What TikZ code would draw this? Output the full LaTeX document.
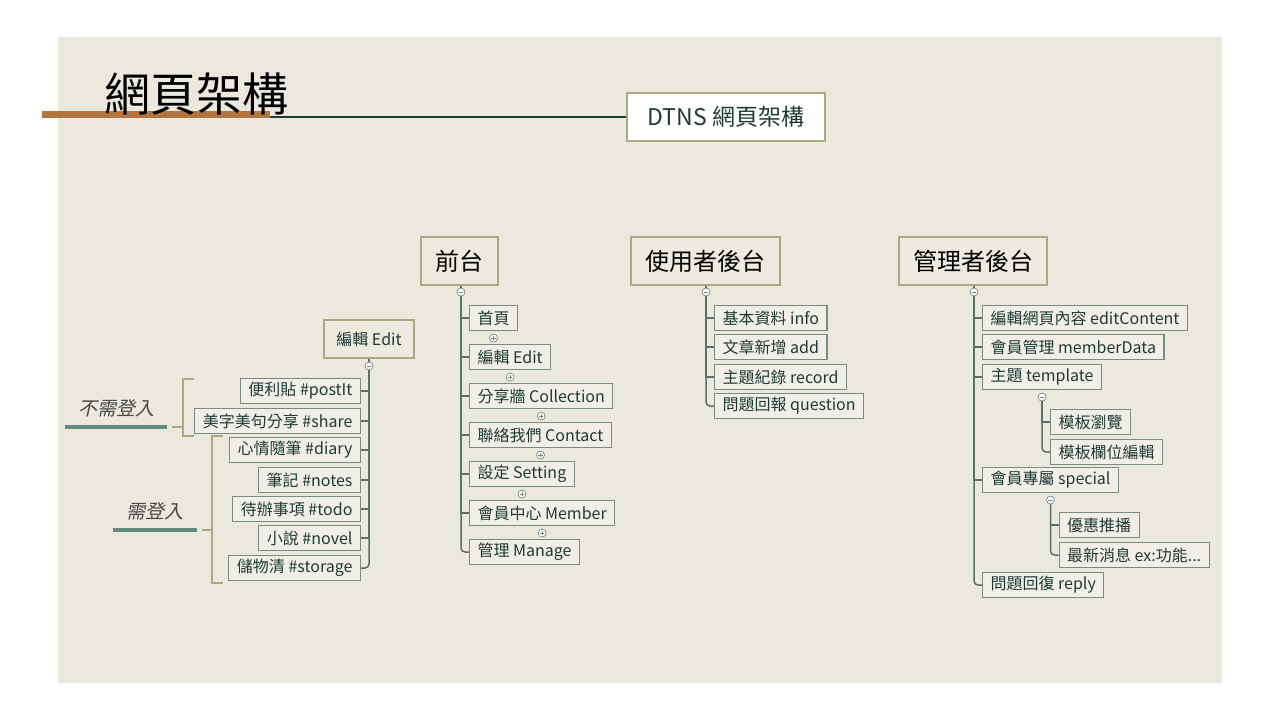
\documentclass[tikz,border=0pt]{standalone}
\usepackage{fontspec}
\setmainfont{Noto Sans CJK TC}
\newfontfamily\slantcjk[FakeSlant=0.22]{Noto Sans CJK TC}
\usetikzlibrary{positioning}

\definecolor{panel}{RGB}{235,232,221}
\definecolor{olive}{RGB}{172,168,132}
\definecolor{hubfill}{RGB}{237,234,224}
\definecolor{leafline}{RGB}{122,140,130}
\definecolor{leaffill}{RGB}{240,238,230}
\definecolor{ink}{RGB}{32,58,54}
\definecolor{stem}{RGB}{92,112,104}
\definecolor{knobline}{RGB}{120,135,128}
\definecolor{rust}{RGB}{180,116,62}
\definecolor{rule}{RGB}{30,62,56}
\definecolor{tealbar}{RGB}{98,140,130}
\definecolor{notes}{RGB}{72,72,72}

\tikzset{every picture/.style={line width=0.75pt}}

\begin{document}
\begin{tikzpicture}[x=1pt,y=1pt,yscale=-1,
  leaf/.style={draw=leafline, fill=leaffill, line width=1.1pt, inner xsep=8pt, inner ysep=0pt, minimum height=25pt, text=ink, font=\fontsize{16}{19}\selectfont},
  hub/.style={draw=olive, fill=hubfill, line width=2.6pt, inner sep=0pt, text=black, font=\fontsize{24}{28}\selectfont},
  twig/.style={draw=stem, line width=1.5pt},
  brace/.style={draw=olive, line width=2pt},
  underl/.style={draw=tealbar, line width=4pt},
  tag/.style={inner sep=0pt, text=notes, font=\slantcjk\fontsize{19}{22}\selectfont},
  knob/.style={circle, draw=knobline, fill=white, line width=0.7pt, inner sep=0pt, minimum size=8pt},
  minus/.style={knob, path picture={\draw[knobline, line width=0.6pt] ([xshift=-2.2pt]path picture bounding box.center) -- ([xshift=2.2pt]path picture bounding box.center);}},
  plus/.style={knob, path picture={\draw[knobline, line width=0.6pt] ([xshift=-2.2pt]path picture bounding box.center) -- ([xshift=2.2pt]path picture bounding box.center) ([yshift=-2.2pt]path picture bounding box.center) -- ([yshift=2.2pt]path picture bounding box.center);}}
]
% background and slide panel
\fill[white] (0,0) rectangle (1280,720);
\fill[panel] (58,37) rectangle (1222,683);
\useasboundingbox (0,0) rectangle (1280,720);

% title with bar
\fill[rust] (42,111) rectangle (270,118);
\node[inner sep=0pt, font=\fontsize{46}{50}\selectfont] (title) at (196,94) {網頁架構};
\node[hub, fill=white, minimum width=198pt, minimum height=48pt, text=ink, font=\fontsize{23}{27}\selectfont] (dtns) at (726,117) {DTNS 網頁架構};
\coordinate (barend) at (270,117);
\draw[rule, line width=1.5pt] (barend) -- (dtns.west);

% main hubs
\node[hub, minimum width=77pt, minimum height=48pt] (front) at (459.5,261) {前台};
\node[hub, minimum width=149pt, minimum height=48pt] (user) at (705.5,261) {使用者後台};
\node[hub, minimum width=148pt, minimum height=48pt] (admin) at (973,261) {管理者後台};
\node[hub, minimum width=90pt, minimum height=38pt, text=ink, font=\fontsize{16}{19}\selectfont] (edit) at (369,339) {編輯 Edit};

% collapse knobs
\node[minus] (kf) at (461,292) {};
\node[minus] (ku) at (706,292) {};
\node[minus] (ka) at (974,292) {};
\node[minus] (ke) at (369,366) {};
\draw[twig] (front.south -| kf) -- (kf);
\draw[twig] (user.south -| ku) -- (ku);
\draw[twig] (admin.south -| ka) -- (ka);
\draw[twig] (edit.south -| ke) -- (ke);

% front end
\foreach \n/\y/\t in {f1/318/首頁, f2/357/編輯 Edit, f3/396/分享牆 Collection, f4/435/聯絡我們 Contact, f5/474/設定 Setting, f6/513/會員中心 Member, f7/552/管理 Manage}
  \node[leaf, anchor=west] (\n) at (469,\y) {\t};
\foreach \i in {1,...,6} {
  \path (f\i.south) ++(0,7) node[plus] (pf\i) {};
  \draw[twig] (kf) |- (f\i.west);
}
\draw[twig, rounded corners=4pt] (kf) |- (f7.west);

% user back end
\foreach \n/\y/\t in {u1/318/基本資料 info, u2/347/文章新增 add, u3/377/主題紀錄 record, u4/406/問題回報 question}
  \node[leaf, anchor=west] (\n) at (714,\y) {\t};
\foreach \i in {1,...,3}
  \draw[twig] (ku) |- (u\i.west);
\draw[twig, rounded corners=4pt] (ku) |- (u4.west);

% admin back end
\foreach \n/\y/\t in {a1/318/編輯網頁內容 editContent, a2/347/會員管理 memberData, a3/377/主題 template, a4/480/會員專屬 special, a5/585/問題回復 reply}
  \node[leaf, anchor=west] (\n) at (982,\y) {\t};
\foreach \i in {1,...,4}
  \draw[twig] (ka) |- (a\i.west);
\draw[twig, rounded corners=4pt] (ka) |- (a5.west);

% template sub branch
\path (a3.south) ++(0,7) node[minus] (kt) {};
\path (kt.center) ++(8,25) node[leaf, anchor=west] (t1) {模板瀏覽};
\path (kt.center) ++(8,55) node[leaf, anchor=west] (t2) {模板欄位編輯};
\draw[twig] (kt) |- (t1.west);
\draw[twig, rounded corners=4pt] (kt) |- (t2.west);

% special sub branch
\path (a4.south) ++(0,7) node[minus] (ks) {};
\path (ks.center) ++(8,25) node[leaf, anchor=west] (s1) {優惠推播};
\path (ks.center) ++(8,55) node[leaf, anchor=west] (s2) {最新消息 ex:功能...};
\draw[twig] (ks) |- (s1.west);
\draw[twig, rounded corners=4pt] (ks) |- (s2.west);

% edit pages, to the left
\foreach \n/\y/\t in {e1/391/便利貼 \#postIt, e2/421/美字美句分享 \#share, e3/450/心情隨筆 \#diary, e4/480/筆記 \#notes, e5/509/待辦事項 \#todo, e6/538/小說 \#novel, e7/568/儲物清 \#storage}
  \node[leaf, anchor=east] (\n) at (361,\y) {\t};
\foreach \i in {1,...,6}
  \draw[twig] (ke) |- (e\i.east);
\draw[twig, rounded corners=4pt] (ke) |- (e7.east);

% login groups
\node[tag] (nologin) at (116,408) {不需登入};
\draw[underl] (65,427) -- (167,427);
\draw[brace] (194,379) -- (183,379) -- (183,436) -- (194,436);
\draw[brace] (172,427) -- (183,427);

\node[tag] (login) at (155,511) {需登入};
\draw[underl] (113,530) -- (197,530);
\draw[brace] (223,436) -- (212,436) -- (212,583) -- (223,583);
\draw[brace] (202,530) -- (212,530);

\end{tikzpicture}
\end{document}
